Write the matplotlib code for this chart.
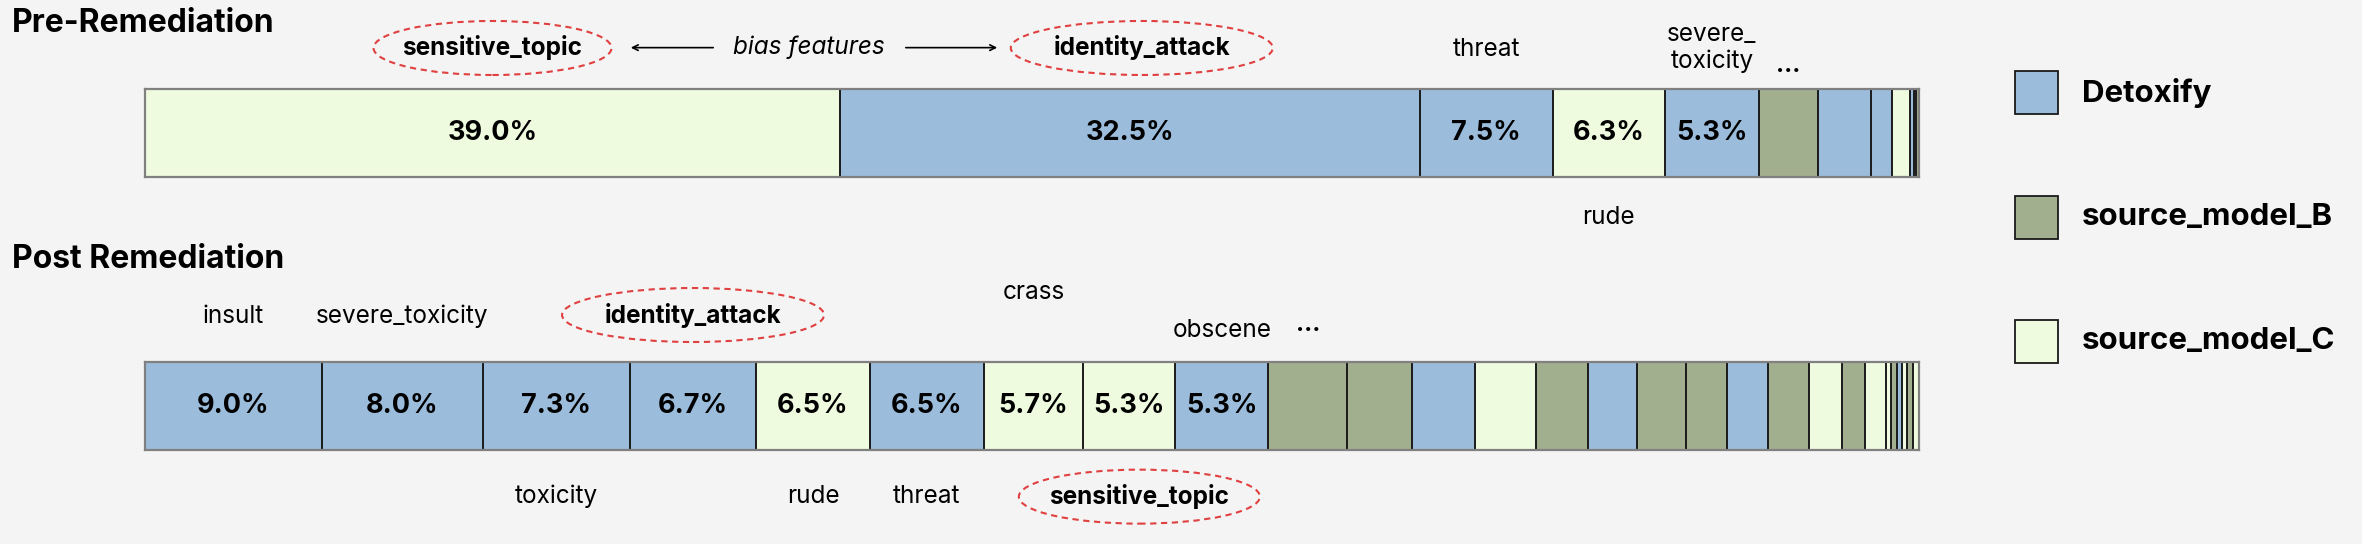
import matplotlib
matplotlib.use("Agg")
import matplotlib.pyplot as plt
from matplotlib.patches import Ellipse, Rectangle
from matplotlib.transforms import blended_transform_factory
import numpy as np

plt.rcParams['font.family'] = ['Inter', 'DejaVu Sans']

# ---------------- data ----------------
source_names = ['Detoxify', 'source_model_B', 'source_model_C']
source_colors = ['#9BBCDB', '#A2AF8F', '#EFFBDF']

pre_values = [39.1, 32.6, 7.5, 6.3, 5.3, 3.3, 3.0, 1.2, 0.97, 0.23, 0.15, 0.17]
pre_sources = ['source_model_C', 'Detoxify', 'Detoxify', 'source_model_C', 'Detoxify',
               'source_model_B', 'Detoxify', 'Detoxify', 'source_model_C', 'Detoxify',
               'source_model_C', 'source_model_B']
pre_pct_labels = ['39.0%', '32.5%', '7.5%', '6.3%', '5.3%']
pre_features = ['sensitive_topic', 'identity_attack', 'threat', 'rude', 'severe_\ntoxicity']

post_values = [9.96, 9.07, 8.31, 7.10, 6.42, 6.41, 5.61, 5.20, 5.22, 4.47, 3.65, 3.56,
               3.42, 2.92, 2.78, 2.78, 2.31, 2.29, 2.31, 1.87, 1.27, 1.17,
               0.32, 0.34, 0.27, 0.30, 0.32, 0.36]
post_sources = ['Detoxify', 'Detoxify', 'Detoxify', 'Detoxify', 'source_model_C', 'Detoxify',
                'source_model_C', 'source_model_C', 'Detoxify', 'source_model_B',
                'source_model_B', 'Detoxify', 'source_model_C', 'source_model_B', 'Detoxify',
                'source_model_B', 'source_model_B', 'Detoxify', 'source_model_B',
                'source_model_C', 'source_model_B', 'source_model_C', 'source_model_C',
                'source_model_B', 'Detoxify', 'source_model_C', 'source_model_B',
                'source_model_C']
post_pct_labels = ['9.0%', '8.0%', '7.3%', '6.7%', '6.5%', '6.5%', '5.7%', '5.3%', '5.3%']
post_features = ['insult', 'severe_toxicity', 'toxicity', 'identity_attack', 'rude',
                 'threat', 'crass', 'sensitive_topic', 'obscene']

bias_features = ['sensitive_topic', 'identity_attack']

# ---------------- layout ----------------
W, H = 2362, 544
DPI = 100
BG = '#F4F4F4'
fig = plt.figure(figsize=(W / DPI, H / DPI), dpi=DPI, facecolor=BG)

bar_left_px, bar_w_px, bar_h_px = 145, 1774.4, 88
top_bottom_px, bot_bottom_px = 177, 450

color_of = dict(zip(source_names, source_colors))

# label layout: y (axes units), x shift (px), ellipse width (px)
pre_feat_y = [1.466, 1.466, 1.447, -0.455, 1.466]
pre_feat_dx = [0, 12, 0, 0, 0]
pre_ell_w = [238, 262, 0, 0, 0]
post_feat_y = [1.52, 1.52, -0.53, 1.534, -0.53, -0.53, 1.79, -0.53, 1.36]
post_feat_dx = [0, 0, 0, 0, 0, 0, 0, 10, 0]
post_ell_w = [0, 0, 0, 262, 0, 0, 0, 241, 0]

LABEL_FS = 17.5
PCT_FS = 19.5


def px_to_fig(x, y_from_top):
    return x / W, 1 - y_from_top / H


def draw_bar(bottom_px, values, sources, pct_labels, features, feat_y, feat_dx, ell_w,
             dots_y):
    ax = fig.add_axes([bar_left_px / W, 1 - bottom_px / H, bar_w_px / W, bar_h_px / H])
    ax.set_facecolor(BG)
    values = np.asarray(values)
    lefts = np.concatenate([[0], np.cumsum(values)[:-1]])
    total = values.sum()
    ax.barh(0, values, left=lefts, height=1, align='edge',
            color=[color_of[s] for s in sources], edgecolor='none')
    ax.vlines(lefts[1:], 0, 1, colors='#1a1a1a', linewidth=1.4)
    ax.set_xlim(0, total)
    ax.set_ylim(0, 1)
    ax.set_xticks([])
    ax.set_yticks([])
    for sp in ax.spines.values():
        sp.set_color('#808080')
        sp.set_linewidth(1.6)
    centers = lefts + values / 2
    for c, lab in zip(centers, pct_labels):
        ax.text(c, 0.5, lab, ha='center', va='center', fontsize=PCT_FS, fontweight='bold')
    tr = blended_transform_factory(ax.transData, ax.transAxes)
    px2data = total / bar_w_px
    for c, feat, fy, fdx, ew in zip(centers, features, feat_y, feat_dx, ell_w):
        is_bias = feat in bias_features
        xc = c + fdx * px2data
        ax.text(xc, fy, feat, transform=tr, ha='center', va='center', fontsize=LABEL_FS,
                fontweight='bold' if is_bias else 'normal', clip_on=False,
                linespacing=1.2)
        if is_bias:
            e = Ellipse((xc, fy), width=ew * px2data, height=54 / bar_h_px,
                        transform=tr, fill=False, edgecolor='#E0403F',
                        linestyle=(0, (3, 2.2)), linewidth=1.5, clip_on=False)
            ax.add_patch(e)
    # ellipsis after the labelled segments
    n = len(pct_labels)
    ax.text(centers[n], dots_y, '...', transform=tr, ha='center', va='center',
            fontsize=LABEL_FS, fontweight='bold', clip_on=False)
    return ax, tr, px2data


ax1, tr1, p2d1 = draw_bar(top_bottom_px, pre_values, pre_sources, pre_pct_labels,
                          pre_features, pre_feat_y, pre_feat_dx, pre_ell_w, 1.27)
ax2, tr2, p2d2 = draw_bar(bot_bottom_px, post_values, post_sources, post_pct_labels,
                          post_features, post_feat_y, post_feat_dx, post_ell_w, 1.43)


def dx(px):
    return (px - bar_left_px) * p2d1


yb = 1.47
ax1.text(dx(809), yb, 'bias features', transform=tr1, ha='center', va='center',
         fontsize=LABEL_FS, fontstyle='italic')
ax1.annotate('', xy=(dx(628), yb), xytext=(dx(716), yb), xycoords=tr1, textcoords=tr1,
             arrowprops=dict(arrowstyle='->', lw=1.2, color='black'))
ax1.annotate('', xy=(dx(1000), yb), xytext=(dx(903), yb), xycoords=tr1, textcoords=tr1,
             arrowprops=dict(arrowstyle='->', lw=1.2, color='black'))

# titles
fig.text(*px_to_fig(12, 24), 'Pre-Remediation', ha='left', va='center',
         fontsize=23, fontweight='bold')
fig.text(*px_to_fig(12, 259), 'Post Remediation', ha='left', va='center',
         fontsize=23, fontweight='bold')

# legend
leg_y = [92.7, 217.3, 341.3]
for name, col, yc in zip(source_names, source_colors, leg_y):
    x0, y0 = px_to_fig(2015, yc + 21.5)
    fig.add_artist(Rectangle((x0, y0), 43 / W, 43 / H, transform=fig.transFigure,
                             facecolor=col, edgecolor='#1a1a1a', linewidth=1.3))
    fig.text(*px_to_fig(2082, yc), name, ha='left', va='center', fontsize=22.5,
             fontweight='bold')

fig.savefig('out.png', dpi=DPI, facecolor=BG)
